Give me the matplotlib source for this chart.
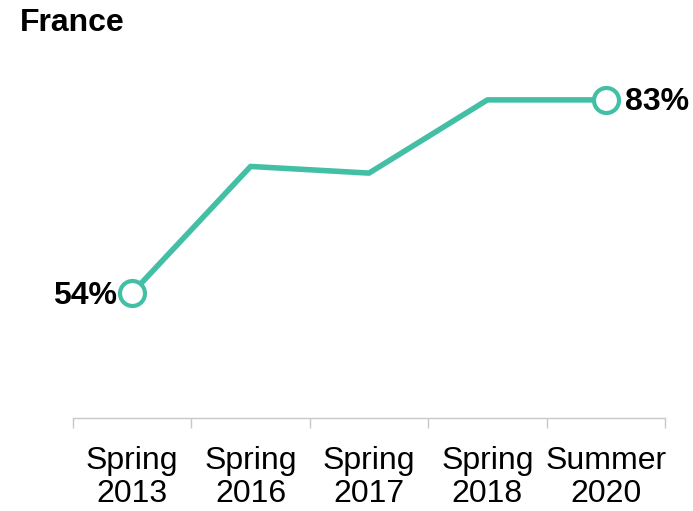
import matplotlib.pyplot as plt

plt.rcParams['font.family'] = ['Liberation Sans', 'DejaVu Sans']

labels = ["Spring\n2013", "Spring\n2016", "Spring\n2017", "Spring\n2018", "Summer\n2020"]
values = [54, 73, 72, 83, 83]
teal = "#43bfa6"

fig = plt.figure(figsize=(6.93, 5.11), dpi=100)
ax = fig.add_axes([73 / 693, 1 - 418 / 511, 592 / 693, 378 / 511])

x = list(range(len(values)))
ax.plot(x, values, color=teal, lw=4.0, solid_capstyle="butt", zorder=2)
ends = [0, len(values) - 1]
ax.plot([x[i] for i in ends], [values[i] for i in ends], "o", ms=18,
        mfc="white", mec=teal, mew=3.0, zorder=3)

ax.annotate(f"{values[0]}%", (x[0], values[0]), xytext=(-11, -2),
            textcoords="offset points", ha="right", va="center",
            fontsize=23, fontweight="bold")
ax.annotate(f"{values[-1]}%", (x[-1], values[-1]), xytext=(14, -1.5),
            textcoords="offset points", ha="left", va="center",
            fontsize=23, fontweight="bold")

ax.set_xlim(-0.5, len(values) - 0.5)
ax.set_ylim(35.2, 92.0)
ax.set_yticks([])
ax.set_xticks(x)
ax.set_xticklabels(labels, fontsize=23, linespacing=1.12)
ax.set_xticks([i - 0.5 for i in range(len(values) + 1)], minor=True)
ax.tick_params(axis="x", which="major", length=0, pad=20)
ax.tick_params(axis="x", which="minor", length=7.5, color="#c8c8c8", width=1)
for s in ["top", "left", "right"]:
    ax.spines[s].set_visible(False)
ax.spines["bottom"].set_color("#c8c8c8")
ax.spines["bottom"].set_linewidth(1)

fig.text(20 / 693, 1 - 23 / 511, "France", fontsize=23, fontweight="bold",
         ha="left", va="center")

fig.savefig("out.png", dpi=100)
